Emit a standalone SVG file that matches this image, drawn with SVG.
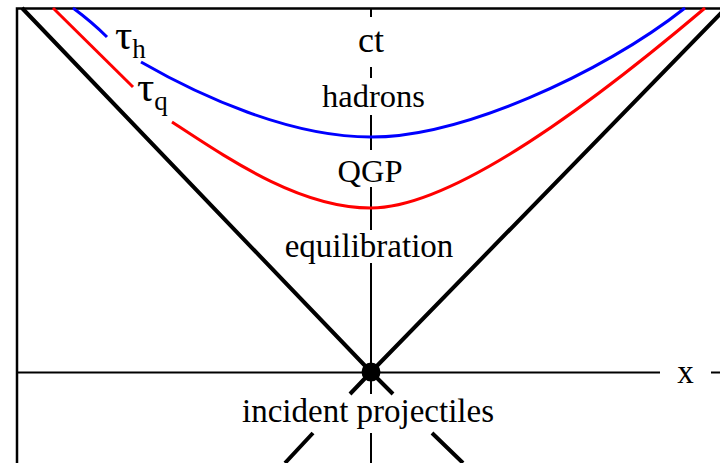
<svg xmlns="http://www.w3.org/2000/svg" width="720" height="463" viewBox="0 0 720 463">
<style>
.ax{stroke:#000;stroke-width:2;fill:none}
.fr{stroke:#000;stroke-width:2.5;fill:none}
.lc{stroke:#000;stroke-width:4;fill:none}
.bl{stroke:#0000ff;stroke-width:3;fill:none}
.rd{stroke:#ff0000;stroke-width:3;fill:none}
.t{font-family:"Liberation Serif","Times New Roman",serif;fill:#000;text-anchor:middle}
.g{font-family:"Liberation Serif","Times New Roman",serif;fill:#000}
</style>
<rect width="720" height="463" fill="#fff"/>
<g id="frame">
<path class="fr" d="M17,463 V8.5 H720"/>
</g>
<g id="axes">
<path class="ax" d="M17,372.5 H660 M711,372.5 H720" stroke-width="2.5"/>
<path class="ax" d="M371,8 V17 M371,67 V78 M371,115 V150 M371,187 V230 M371,263 V394 M371,433 V463"/>
</g>
<g id="lightcone">
<path class="lc" d="M22,8 L371,372 L726,8"/>
<path class="lc" d="M371,372 L350,394 M313,433 L285,463"/>
<path class="lc" d="M371,372 L393,394 M432,433 L463,463"/>
<circle cx="371" cy="372" r="9.5" fill="#000"/>
</g>
<g id="tau-h-curve">
<path class="bl" d="M73,8 Q92,22 107,37"/>
<path class="bl" d="M141,62 C200,96 290,137 371,137 C460,137 600,75 685,8"/>
</g>
<g id="tau-q-curve">
<path class="rd" d="M53,8 L133,87"/>
<path class="rd" d="M172,122 C230,160 300,208 371,208 C460,208 620,80 705,8"/>
</g>
<g id="labels">
<text class="t" x="371" y="52" font-size="36">ct</text>
<text class="t" x="373.5" y="107" font-size="32.5">hadrons</text>
<text class="t" x="370" y="182" font-size="32.5">QGP</text>
<text class="t" x="369" y="257" font-size="33">equilibration</text>
<text class="t" x="368" y="422" font-size="33">incident projectiles</text>
<text class="t" x="685.5" y="383" font-size="33">x</text>
<text class="g" x="115" y="49" font-size="43">τ<tspan font-size="27" dy="9">h</tspan></text>
<text class="g" x="137" y="101" font-size="43">τ<tspan font-size="27" dy="9">q</tspan></text>
</g>
</svg>
